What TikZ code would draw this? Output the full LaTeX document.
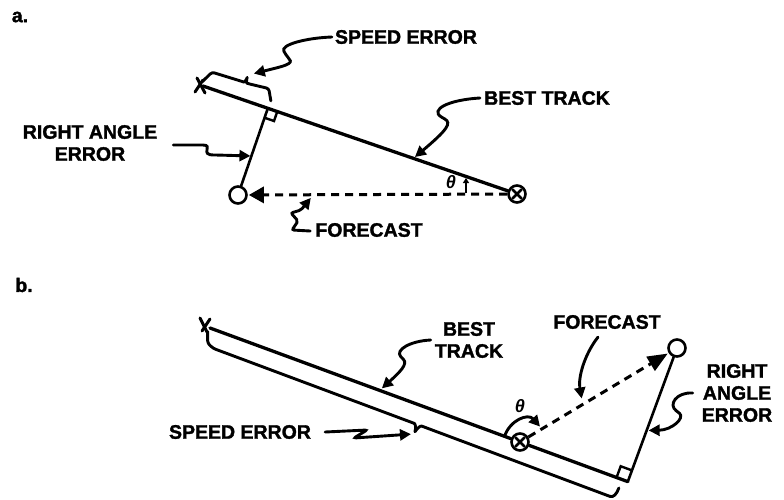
\documentclass[tikz,border=0pt]{standalone}
\usepackage{fontspec}
\setmainfont{Liberation Sans}[BoldFeatures={FakeBold=1.6}]
\usetikzlibrary{arrows.meta,calc}
\begin{document}
\begin{tikzpicture}[x=1pt,y=-1pt,
  lbl/.style={font=\fontsize{19.5}{22}\selectfont\bfseries, inner sep=0pt, align=center},
  thl/.style={font=\fontsize{18}{18}\selectfont\bfseries\itshape, inner sep=0pt},
  trk/.style={line width=3.3pt, line cap=round},
  perp/.style={line width=2.6pt, line cap=round},
  xmark/.style={line width=3pt, line cap=round},
  brc/.style={line width=2.9pt, line cap=round, line join=round, rounded corners=2.5pt},
  sq/.style={line width=2.4pt},
  squig/.style={line width=2.9pt, line cap=round, rounded corners=2pt, -{Triangle[length=11pt,width=11pt]}},
  fcst/.style={line width=3pt, dash pattern=on 8pt off 6pt},
  obs/.style={circle, draw, line width=2.6pt, fill=white, minimum size=17pt, inner sep=0pt},
]
\useasboundingbox (0,0) rectangle (784,499);

% ---------------- part a ----------------
\node[lbl] (la) at (20,17) {a.};
\coordinate (Xa) at (203,86);
\node[obs] (Ta) at (517,194) {};
\node[obs] (Oa) at (238,195) {};
\coordinate (Fa) at ($(Xa)!(Oa)!(Ta)$);
\draw[trk] (Xa) -- (Ta);
\draw[xmark] ($(Xa)+(-6,-8)$) -- ($(Xa)+(2,7)$);
\draw[xmark] ($(Xa)+(-8,6)$) -- ($(Xa)+(0,-6)$);
\draw[perp] ($(Ta)+(-4.5,-4.5)$) -- ($(Ta)+(4.5,4.5)$);
\draw[perp] ($(Ta)+(-4.5,4.5)$) -- ($(Ta)+(4.5,-4.5)$);
\draw[perp] (Oa) -- (Fa);
\coordinate (Sa1) at ($(Fa)!10pt!(Ta)$);
\coordinate (Sa2) at ($(Fa)!10pt!(Oa)$);
\draw[sq] (Sa1) -- ($(Sa1)+(Sa2)-(Fa)$) -- (Sa2);
\draw[fcst, -{Triangle[length=15pt,width=16pt]}, shorten >=1pt] (Ta) -- (Oa);

\begin{scope}[shift={(Xa)}, rotate=-18.98]
  \draw[brc] (-2,-4) -- (4,-16) -- (35,-17) .. controls (38,-17) and (39,-20) .. (39,-24)
     .. controls (39,-20) and (40,-17) .. (43,-17) -- (63,-19) -- (69,-8);
  \coordinate (BTa) at (39,-25);
\end{scope}

\node[lbl] (se_a) at (406,37) {SPEED ERROR};
\node[lbl] (bt_a) at (547,98) {BEST TRACK};
\node[lbl] (ra_a) at (90,143) {RIGHT ANGLE\\ERROR};
\node[lbl] (fc_a) at (369,230) {FORECAST};
\node[thl] (th_a) at (451,182) {θ};

\coordinate (bta) at ($(Xa)!0.67!(Ta)$);
\coordinate (raa) at ($(Oa)!0.45!(Fa)$);
\coordinate (fca) at ($(Ta)!0.73!(Oa)$);
\coordinate (tha1) at (466,193);
\coordinate (tha2) at (466,178);

\draw[squig, shorten >=6pt] ([xshift=-3pt]se_a.west) .. controls (305,38) and (280,45) .. (285,53)
   .. controls (289,60) and (296,62) .. (280,67) -- (BTa);
\draw[squig, shorten >=2pt] ([xshift=-4pt]bt_a.west) .. controls (447,100) and (430,110) .. (443,118)
   .. controls (452,123) and (447,130) .. (bta);
\draw[squig, shorten >=1pt] ($(ra_a.east)+(16,2)$) -- (201,145) .. controls (214,145) and (199,155) .. (216,155) -- (raa);
\draw[squig, shorten >=4pt] ([xshift=-5pt,yshift=-1pt]fc_a.west) -- (292,230) -- (298,221) -- (291,213) -- (301,210) -- (fca);
\draw[line width=2pt, -{Triangle[length=5pt,width=6pt]}] (tha1) -- (tha2);

% ---------------- part b ----------------
\node[lbl] (lb) at (24,285) {b.};
\coordinate (Xb) at (210,328);
\node[obs] (Ob) at (677,348) {};
\node[obs] (Tb) at (520,442) {};
\coordinate (Fb) at ($(Xb)!(Ob)!(Tb)$);
\draw[trk] (Xb) -- (Tb);
\draw[trk] (Tb) -- (Fb);
\draw[xmark] ($(Xb)+(-10,-10)$) -- ($(Xb)+(-3,4)$);
\draw[xmark] ($(Xb)+(-8,3)$) -- ($(Xb)+(0,-9)$);
\draw[perp] ($(Tb)+(-4.5,-4.5)$) -- ($(Tb)+(4.5,4.5)$);
\draw[perp] ($(Tb)+(-4.5,4.5)$) -- ($(Tb)+(4.5,-4.5)$);
\draw[perp] (Ob) -- (Fb);
\coordinate (Sb1) at ($(Fb)!12pt!(Tb)$);
\coordinate (Sb2) at ($(Fb)!12pt!(Ob)$);
\draw[sq] (Sb1) -- ($(Sb1)+(Sb2)-(Fb)$) -- (Sb2);
\draw[fcst, -{Triangle[length=20pt,width=16pt]}, shorten >=1pt] (Tb) -- (Ob);

\begin{scope}[shift={(Xb)}, rotate=-20.19]
  \draw[brc] (-1,4) -- (3,15) -- (10,18) -- (222,19) .. controls (226,19) and (228,23) .. (228,28)
     .. controls (229,23) and (231,19) .. (235,19) -- (431,20) .. controls (437,20) and (439,16) .. (439,9);
  \coordinate (BTb) at (228,29);
\end{scope}

\node[lbl] (se_b) at (240,432) {SPEED ERROR};
\node[lbl] (bt_b) at (469,340) {BEST\\TRACK};
\node[lbl] (fc_b) at (607,322) {FORECAST};
\node[lbl] (ra_b) at (737,393) {RIGHT\\ANGLE\\ERROR};
\node[thl] (th_b) at (520,406) {θ};

\coordinate (btb) at ($(Xb)!0.406!(Fb)$);
\coordinate (fcb) at ($(Tb)!0.40!(Ob)$);
\coordinate (rab) at ($(Ob)!0.617!(Fb)$);
\coordinate (thb1) at ($(Xb)!0.705!(Fb)$);
\coordinate (thb2) at ($(Tb)!0.14!(Ob)$);

\draw[squig, shorten >=3pt] ([xshift=14pt]se_b.east) -- (367,430) -- (354,438) -- (BTb);
\draw[squig, shorten >=3pt] ([xshift=-4pt]bt_b.west) .. controls (410,341) and (395,350) .. (402,358)
   .. controls (408,364) and (400,372) .. (btb);
\draw[squig, shorten >=6pt] ($(fc_b.south)+(-9,8)$) .. controls (584,355) and (578,378) .. (fcb);
\draw[squig, shorten >=2pt] ($(ra_b.west)+(-9,0)$) .. controls (676,392) and (668,405) .. (678,412)
   .. controls (685,418) and (672,430) .. (rab);
\draw[squig, shorten >=3pt] (thb1) .. controls (510,420) and (528,413) .. (thb2);
\end{tikzpicture}
\end{document}
